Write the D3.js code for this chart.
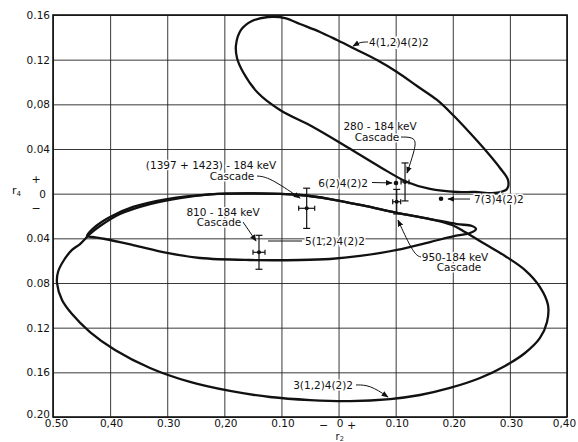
<!DOCTYPE html>
<html>
<head>
<meta charset="utf-8">
<script src="https://cdn.jsdelivr.net/npm/d3@7"></script>
<style>
  html, body { margin: 0; padding: 0; background: #fff; }
  svg { display: block; }
  text { font-family: "DejaVu Sans", sans-serif; fill: #111; }
</style>
</head>
<body>
<svg id="chart" width="578" height="442"></svg>
<script>
// Axis ticks (r2 horizontal, r4 vertical); labels are unsigned as on the drawing
const xTickValues = [-0.5, -0.4, -0.3, -0.2, -0.1, 0, 0.1, 0.2, 0.3, 0.4];
const xTickLabels = ["0.50", "0,40", "0.30", "0,20", "0.10", "0", "0.10", "0.20", "0.30", "0,40"];
const yTickValues = [0.16, 0.12, 0.08, 0.04, 0, -0.04, -0.08, -0.12, -0.16, -0.20];
const yTickLabels = ["0.16", "0.12", "0,08", "0.04", "0", "0.04", "0.08", "0.12", "0.16", "0.20"];

// Allowed-region contours, [r2, r4]
const contour4_12_4_2_2 = [
  [-0.1796, 0.1331], [-0.1708, 0.1466], [-0.1516, 0.1546], [-0.1235, 0.1582], [-0.0938, 0.1573],
  [-0.0675, 0.1519], [-0.0325, 0.1448], [-0.0027, 0.1376], [0.0323, 0.1287], [0.0673, 0.1197],
  [0.1023, 0.1090], [0.1374, 0.0964], [0.1724, 0.0839], [0.2004, 0.0704], [0.2302, 0.0543],
  [0.2599, 0.0373], [0.2827, 0.0230], [0.2967, 0.0122], [0.2950, 0.0042], [0.2739, 0.0006],
  [0.2389, 0.0015], [0.2074, 0.0015], [0.1601, 0.0042], [0.1199, 0.0105], [0.0726, 0.0239],
  [0.0148, 0.0418], [-0.0447, 0.0597], [-0.1025, 0.0749], [-0.1410, 0.0901], [-0.1673, 0.1090],
  [-0.1778, 0.1215]
];
const contour5_12_4_2_2 = [
  [-0.4405, -0.0379], [-0.4265, -0.0298], [-0.4002, -0.0209], [-0.3599, -0.0119], [-0.3004, -0.0048],
  [-0.2251, -0.0007], [-0.1551, 0.0002], [-0.0675, -0.0012], [-0.0150, -0.0048], [0.0463, -0.0110],
  [0.1023, -0.0173], [0.1601, -0.0227], [0.2074, -0.0272], [0.2337, -0.0290], [0.2407, -0.0316],
  [0.2302, -0.0352], [0.2039, -0.0379], [0.1601, -0.0433], [0.1023, -0.0504], [0.0376, -0.0558],
  [-0.0150, -0.0585], [-0.0675, -0.0594], [-0.1551, -0.0594], [-0.2426, -0.0576], [-0.3004, -0.0531],
  [-0.3599, -0.0460], [-0.4089, -0.0406], [-0.4317, -0.0388]
];
const contour3_12_4_2_2 = [
  [-0.4930, -0.0800], [-0.4912, -0.0701], [-0.4807, -0.0594], [-0.4667, -0.0504], [-0.4527, -0.0451],
  [-0.4352, -0.0361], [-0.4177, -0.0290], [-0.3827, -0.0182], [-0.3302, -0.0093], [-0.2776, -0.0039],
  [-0.2251, -0.0007], [-0.1551, 0.0002], [-0.0675, -0.0012], [-0.0150, -0.0048], [0.0463, -0.0110],
  [0.1023, -0.0173], [0.1601, -0.0227], [0.1987, -0.0281], [0.2214, -0.0343], [0.2564, -0.0451],
  [0.2915, -0.0558], [0.3265, -0.0684], [0.3527, -0.0836], [0.3667, -0.0997], [0.3650, -0.1149],
  [0.3527, -0.1292], [0.3265, -0.1427], [0.2915, -0.1543], [0.2477, -0.1651], [0.1951, -0.1740],
  [0.1426, -0.1803], [0.0901, -0.1839], [0.0200, -0.1857], [-0.0500, -0.1848], [-0.1200, -0.1821],
  [-0.1901, -0.1767], [-0.2601, -0.1686], [-0.3302, -0.1561], [-0.3914, -0.1400], [-0.4352, -0.1239],
  [-0.4667, -0.1078], [-0.4842, -0.0952]
];

// Measured cascades with errors
const cascadeNames = ["280-184", "950-184", "(1397+1423)-184", "810-184"];
const cascadeR2 = [0.1164, 0.1018, -0.0558, -0.1393];
const cascadeR4 = [0.0105, -0.0072, -0.0131, -0.0525];
const cascadeErrR2 = [0.007, 0.007, 0.014, 0.0105];
const cascadeErrR4 = [0.017, 0.011, 0.018, 0.0152];

// Pure-multipole predictions
const pointNames = ["6(2)4(2)2", "7(3)4(2)2"];
const pointR2 = [0.1006, 0.1794];
const pointR4 = [0.0096, -0.0045];

// Callout texts, anchors and leaders in data units
const callouts = [
  { lines: ["4(1,2)4(2)2"], at: [0.0533, 0.1322], anchor: "start",
    leader: [[0.0516, 0.1358], [0.0376, 0.1358], [0.0253, 0.1322]] },
  { lines: ["280 - 184 keV", "Cascade"], at: [0.0726, 0.0566], at2: [0.0673, 0.0472], anchor: "middle",
    leader: [[0.1094, 0.0507], [0.1374, 0.0507], [0.1322, 0.0373], [0.1199, 0.0185]] },
  { lines: ["6(2)4(2)2"], at: [0.0516, 0.0064], anchor: "end",
    leader: [[0.0586, 0.0100], [0.0936, 0.0096]] },
  { lines: ["7(3)4(2)2"], at: [0.2372, -0.0084], anchor: "start",
    leader: [[0.2302, -0.0048], [0.1917, -0.0048]] },
  { lines: ["(1397 + 1423) - 184 keV", "Cascade"], at: [-0.2233, 0.0221], at2: [-0.1866, 0.0122], anchor: "middle",
    leader: [[-0.1428, 0.0158], [-0.1218, 0.0149], [-0.0675, -0.0039]] },
  { lines: ["810 - 184 keV", "Cascade"], at: [-0.2023, -0.0200], at2: [-0.2093, -0.0294], anchor: "middle",
    leader: [[-0.1673, -0.0254], [-0.1445, -0.0424]] },
  { lines: ["5(1,2)4(2)2"], at: [-0.0587, -0.0460], anchor: "start",
    leader: [[-0.0640, -0.0424], [-0.1235, -0.0424]], noArrow: true },
  { lines: ["950-184 keV", "Cascade"], at: [0.2039, -0.0603], at2: [0.2109, -0.0697], anchor: "middle",
    leader: [[0.1444, -0.0567], [0.1321, -0.0549], [0.1041, -0.0237]] },
  { lines: ["3(1,2)4(2)2"], at: [0.0253, -0.1749], anchor: "end",
    leader: [[0.0306, -0.1713], [0.0551, -0.1713], [0.0866, -0.1821]] }
];

const svg = d3.select("#chart");
const plotLeft = 53, plotRight = 567, plotTop = 15, plotBottom = 417;

const x = d3.scaleLinear().domain([-0.5, 0.4]).range([plotLeft, plotRight]);
const y = d3.scaleLinear().domain([-0.2, 0.16]).range([plotBottom, plotTop]);

svg.append("defs").append("marker")
  .attr("id", "arrow").attr("viewBox", "0 0 10 10")
  .attr("refX", 9).attr("refY", 5)
  .attr("markerWidth", 7).attr("markerHeight", 7)
  .attr("markerUnits", "userSpaceOnUse")
  .attr("orient", "auto")
  .append("path").attr("d", "M0,1 L10,5 L0,9 Z").attr("fill", "#111");

// Grid via axes
const lastX = xTickValues.length - 1;
const xAxis = d3.axisBottom(x)
  .tickValues(xTickValues)
  .tickFormat((d, i) => xTickLabels[i])
  .tickSizeInner(-(plotBottom - plotTop)).tickSizeOuter(0).tickPadding(3);
const gx = svg.append("g").attr("transform", `translate(0,${plotBottom})`).call(xAxis);
gx.select(".domain").remove();
gx.selectAll(".tick line").attr("stroke", "#222").attr("stroke-width", 0.9);
gx.selectAll(".tick text").attr("font-size", 10.5).attr("fill", "#111")
  .attr("font-family", "DejaVu Sans, sans-serif")
  .attr("dx", (d, i) => i === 0 ? 3 : (i === lastX ? -3 : 1));

const yAxis = d3.axisLeft(y)
  .tickValues(yTickValues)
  .tickFormat((d, i) => yTickLabels[i])
  .tickSizeInner(-(plotRight - plotLeft)).tickSizeOuter(0).tickPadding(3);
const gy = svg.append("g").attr("transform", `translate(${plotLeft},0)`).call(yAxis);
gy.select(".domain").remove();
gy.selectAll(".tick line").attr("stroke", "#222").attr("stroke-width", 0.9);
gy.selectAll(".tick text").attr("font-size", 10.5).attr("fill", "#111")
  .attr("font-family", "DejaVu Sans, sans-serif")
  .attr("y", (d, i) => i === yTickValues.length - 1 ? -3 : 0)
  .attr("dx", (d, i) => yTickLabels[i] === "0" ? -4 : 0);

// Frame
svg.append("rect")
  .attr("x", plotLeft).attr("y", plotTop)
  .attr("width", plotRight - plotLeft).attr("height", plotBottom - plotTop)
  .attr("fill", "none").attr("stroke", "#111").attr("stroke-width", 1.6);

// Sign markers around zero and axis titles
svg.append("text").attr("x", x(0) - 15).attr("y", plotBottom + 12).attr("text-anchor", "middle")
  .attr("font-size", 11).text("−");
svg.append("text").attr("x", x(0) + 13).attr("y", plotBottom + 12).attr("text-anchor", "middle")
  .attr("font-size", 11).text("+");
const r2t = svg.append("text").attr("x", x(0) - 3).attr("y", plotBottom + 22.5).attr("font-size", 10);
r2t.append("tspan").text("r");
r2t.append("tspan").attr("font-size", 6.5).attr("dy", 1).text("2");

svg.append("text").attr("x", plotLeft - 17).attr("y", y(0) - 11).attr("text-anchor", "middle")
  .attr("font-size", 11).text("+");
svg.append("text").attr("x", plotLeft - 17).attr("y", y(0) + 18).attr("text-anchor", "middle")
  .attr("font-size", 11).text("−");
const r4t = svg.append("text").attr("x", 12).attr("y", y(0) + 0).attr("font-size", 11);
r4t.append("tspan").text("r");
r4t.append("tspan").attr("font-size", 7).attr("dy", 2).text("4");

// Contours
const contourLine = d3.line().x(d => x(d[0])).y(d => y(d[1])).curve(d3.curveCatmullRomClosed.alpha(0.5));
[contour4_12_4_2_2, contour5_12_4_2_2, contour3_12_4_2_2].forEach(c => {
  svg.append("path").attr("d", contourLine(c))
    .attr("fill", "none").attr("stroke", "#111").attr("stroke-width", 2.3);
});

// Callouts
const leaderPath = d3.line().x(d => x(d[0])).y(d => y(d[1])).curve(d3.curveBasis);
callouts.forEach(c => {
  svg.append("path")
    .attr("d", leaderPath(c.leader))
    .attr("fill", "none").attr("stroke", "#111").attr("stroke-width", 1)
    .attr("marker-end", c.noArrow ? null : "url(#arrow)");
  svg.append("text").attr("x", x(c.at[0])).attr("y", y(c.at[1]))
    .attr("text-anchor", c.anchor).attr("font-size", 10.5)
    .attr("stroke", "#fff").attr("stroke-width", 3).attr("paint-order", "stroke")
    .text(c.lines[0]);
  if (c.lines[1]) {
    svg.append("text").attr("x", x(c.at2[0])).attr("y", y(c.at2[1]))
      .attr("text-anchor", c.anchor).attr("font-size", 10.5)
      .attr("stroke", "#fff").attr("stroke-width", 3).attr("paint-order", "stroke")
      .text(c.lines[1]);
  }
});

// Measured points with error bars
cascadeNames.forEach((n, i) => {
  const g = svg.append("g").attr("stroke", "#111").attr("stroke-width", 1.2);
  const cx = x(cascadeR2[i]), cy = y(cascadeR4[i]);
  const y0 = y(cascadeR4[i] - cascadeErrR4[i]), y1 = y(cascadeR4[i] + cascadeErrR4[i]);
  const x0 = x(cascadeR2[i] - cascadeErrR2[i]), x1 = x(cascadeR2[i] + cascadeErrR2[i]);
  g.append("line").attr("x1", cx).attr("x2", cx).attr("y1", y0).attr("y2", y1);
  g.append("line").attr("x1", cx - 3.5).attr("x2", cx + 3.5).attr("y1", y0).attr("y2", y0);
  g.append("line").attr("x1", cx - 3.5).attr("x2", cx + 3.5).attr("y1", y1).attr("y2", y1);
  g.append("line").attr("x1", x0).attr("x2", x1).attr("y1", cy).attr("y2", cy);
  g.append("line").attr("x1", x0).attr("x2", x0).attr("y1", cy - 2.5).attr("y2", cy + 2.5);
  g.append("line").attr("x1", x1).attr("x2", x1).attr("y1", cy - 2.5).attr("y2", cy + 2.5);
  g.append("circle").attr("cx", cx).attr("cy", cy).attr("r", 2).attr("fill", "#111").attr("stroke", "none");
});

// Multipole predictions
pointNames.forEach((n, i) => {
  svg.append("circle").attr("cx", x(pointR2[i])).attr("cy", y(pointR4[i])).attr("r", 2.3).attr("fill", "#111");
});
</script>
</body>
</html>
